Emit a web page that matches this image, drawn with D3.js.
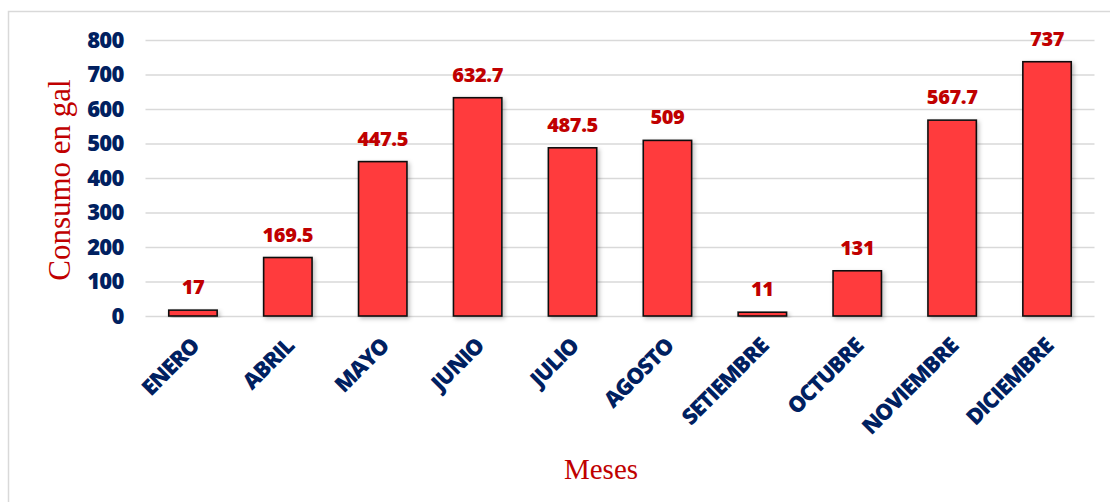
<!DOCTYPE html>
<html>
<head>
<meta charset="utf-8">
<script src="https://cdn.jsdelivr.net/npm/d3@7"></script>
<style>
  html, body { margin: 0; padding: 0; background: #ffffff; }
  svg { display: block; }
</style>
</head>
<body>
<div id="chart"></div>
<script>
// Monthly fuel consumption (gallons)
const months = ["ENERO", "ABRIL", "MAYO", "JUNIO", "JULIO", "AGOSTO", "SETIEMBRE", "OCTUBRE", "NOVIEMBRE", "DICIEMBRE"];
const consumo = [17, 169.5, 447.5, 632.7, 487.5, 509, 11, 131, 567.7, 737];
const yTicks = [0, 100, 200, 300, 400, 500, 600, 700, 800];
const yTitle = "Consumo en gal";
const xTitle = "Meses";

const W = 1110, H = 502;
const margin = { left: 145.5, right: 15.5, top: 40, bottom: 186 };

const svg = d3.select("#chart").append("svg")
  .attr("width", W).attr("height", H);

const defs = svg.append("defs");
const shadow = defs.append("filter").attr("id", "barShadow")
  .attr("x", "-20%").attr("y", "-20%").attr("width", "150%").attr("height", "150%");
shadow.append("feDropShadow")
  .attr("dx", 2).attr("dy", 2).attr("stdDeviation", 2)
  .attr("flood-color", "#000").attr("flood-opacity", 0.25);

// chart frame
svg.append("rect")
  .attr("x", 8.5).attr("y", 11.5)
  .attr("width", W + 10).attr("height", H + 10)
  .attr("fill", "none").attr("stroke", "#d9d9d9").attr("stroke-width", 1.5);

const x = d3.scaleBand()
  .domain(months)
  .range([margin.left, W - margin.right])
  .paddingInner(0.49).paddingOuter(0.245);

const y = d3.scaleLinear()
  .domain([0, 800])
  .range([H - margin.bottom, margin.top]);

const boldFont = "'Open Sans', sans-serif";

// gridlines + y tick labels
const yAxis = d3.axisLeft(y).tickValues(yTicks)
  .tickSize(-(W - margin.right - margin.left)).tickPadding(22);
const gy = svg.append("g")
  .attr("transform", `translate(${margin.left},0)`)
  .call(yAxis);
gy.select(".domain").remove();
gy.selectAll(".tick line")
  .attr("stroke", "#d9d9d9").attr("stroke-width", 1.5);
gy.selectAll(".tick text")
  .attr("fill", "#002060")
  .style("font-family", boldFont)
  .style("font-weight", "800")
  .style("font-size", "22px")
  .style("letter-spacing", "-0.8px");

// bars
svg.append("g").selectAll("rect")
  .data(months)
  .join("rect")
  .attr("x", d => x(d))
  .attr("y", (d, i) => y(consumo[i]))
  .attr("width", x.bandwidth())
  .attr("height", (d, i) => y(0) - y(consumo[i]))
  .attr("fill", "#ff3b3d")
  .attr("stroke", "#111")
  .attr("stroke-width", 1.6)
  .attr("filter", "url(#barShadow)");

// value labels
svg.append("g").selectAll("text")
  .data(months)
  .join("text")
  .attr("x", d => x(d) + x.bandwidth() / 2)
  .attr("y", (d, i) => y(consumo[i]) - 16)
  .attr("text-anchor", "middle")
  .attr("fill", "#c00000")
  .style("font-family", boldFont)
  .style("font-weight", "800")
  .style("font-size", "20px")
  .style("letter-spacing", "-0.4px")
  .text((d, i) => d3.format("~")(consumo[i]));

// x category labels, rotated
const xAxis = d3.axisBottom(x).tickSize(0).tickPadding(0);
const gx = svg.append("g")
  .attr("transform", `translate(0,${y(0)})`)
  .call(xAxis);
gx.select(".domain").remove();
gx.selectAll(".tick text")
  .attr("text-anchor", "end")
  .attr("fill", "#002060")
  .attr("transform", "translate(2,26) rotate(-45)")
  .attr("dy", "0.35em")
  .attr("y", 0)
  .style("font-family", boldFont)
  .style("font-weight", "800")
  .style("font-size", "22px")
  .style("letter-spacing", "-1px");

// axis titles
svg.append("text")
  .attr("transform", `translate(70,${(y(0) + y(800)) / 2 + 2}) rotate(-90)`)
  .attr("text-anchor", "middle")
  .attr("fill", "#c00000")
  .style("font-family", "'Liberation Serif', 'Times New Roman', serif")
  .style("font-size", "31px")
  .text(yTitle);

svg.append("text")
  .attr("x", 601).attr("y", 479)
  .attr("text-anchor", "middle")
  .attr("fill", "#c00000")
  .style("font-family", "'Liberation Serif', 'Times New Roman', serif")
  .style("font-size", "29px")
  .text(xTitle);
</script>
</body>
</html>
